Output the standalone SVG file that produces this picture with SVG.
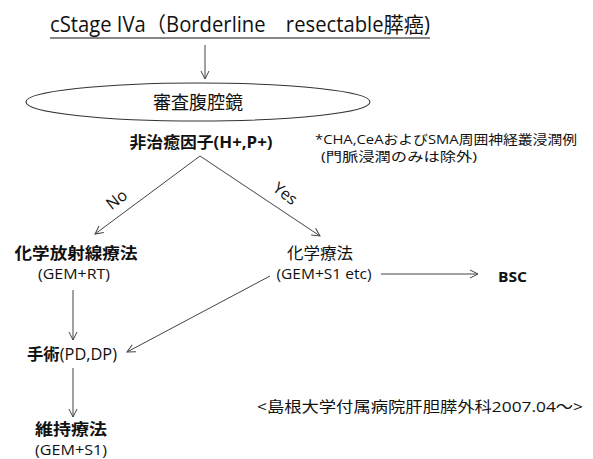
<svg xmlns="http://www.w3.org/2000/svg" width="593" height="459" viewBox="0 0 593 459">
<style>
text{font-family:"Open Sans","Noto Sans CJK JP",sans-serif;fill:#111;}
.b{font-weight:bold;}
.c{stroke:#444;stroke-width:1;fill:none;}
</style>
<defs>
<marker id="ah" markerWidth="12" markerHeight="12" refX="10" refY="5" orient="auto" markerUnits="userSpaceOnUse">
<path d="M2,1 L10,5 L2,9" fill="none" stroke="#444" stroke-width="1"/>
</marker>
</defs>
<rect width="593" height="459" fill="#fff"/>
<g id="title">
<text x="50" y="32" font-size="21" textLength="380" lengthAdjust="spacingAndGlyphs">cStage IVa（Borderline　resectable膵癌)</text>
<line x1="50" y1="38" x2="430" y2="38" stroke="#111" stroke-width="1.2"/>
</g>
<g id="laparoscopy">
<ellipse cx="198" cy="102" rx="172" ry="19" fill="none" stroke="#333" stroke-width="1.1"/>
<text x="198" y="109" font-size="18" text-anchor="middle">審査腹腔鏡</text>
</g>
<g id="noncurative">
<text x="201" y="148" font-size="16" class="b" text-anchor="middle" textLength="143" lengthAdjust="spacingAndGlyphs">非治癒因子(H+,P+)</text>
</g>
<g id="note">
<text x="315" y="144" font-size="13" textLength="262" lengthAdjust="spacingAndGlyphs">*CHA,CeAおよびSMA周囲神経叢浸潤例</text>
<text x="321" y="161" font-size="13" textLength="156" lengthAdjust="spacingAndGlyphs">(門脈浸潤のみは除外)</text>
</g>
<g id="chemoradiation">
<text x="76" y="259" font-size="16" class="b" text-anchor="middle" textLength="123" lengthAdjust="spacingAndGlyphs">化学放射線療法</text>
<text x="74" y="279" font-size="14" text-anchor="middle" textLength="72" lengthAdjust="spacingAndGlyphs">(GEM+RT)</text>
</g>
<g id="chemo">
<text x="320" y="259" font-size="16" text-anchor="middle" textLength="66" lengthAdjust="spacingAndGlyphs">化学療法</text>
<text x="324" y="279" font-size="14" text-anchor="middle" textLength="95" lengthAdjust="spacingAndGlyphs">(GEM+S1 etc)</text>
</g>
<g id="bsc">
<text x="498" y="282" font-size="15" class="b" textLength="29" lengthAdjust="spacingAndGlyphs">BSC</text>
</g>
<g id="surgery">
<text x="27" y="360" font-size="16" textLength="90" lengthAdjust="spacingAndGlyphs"><tspan class="b">手術</tspan>(PD,DP)</text>
</g>
<g id="maintenance">
<text x="71" y="435" font-size="16" class="b" text-anchor="middle" textLength="72" lengthAdjust="spacingAndGlyphs">維持療法</text>
<text x="71" y="455" font-size="14" text-anchor="middle" textLength="72" lengthAdjust="spacingAndGlyphs">(GEM+S1)</text>
</g>
<g id="source">
<text x="257" y="412" font-size="15" textLength="326" lengthAdjust="spacingAndGlyphs">&lt;島根大学付属病院肝胆膵外科2007.04～&gt;</text>
</g>
<g id="connectors">
<line class="c" x1="205" y1="45" x2="205" y2="79" marker-end="url(#ah)"/>
<line class="c" x1="200" y1="156" x2="95" y2="234" marker-end="url(#ah)"/>
<line class="c" x1="200" y1="156" x2="320" y2="236" marker-end="url(#ah)"/>
<text x="117" y="205" font-size="16" text-anchor="middle" transform="rotate(-38 117 200)">No</text>
<text x="285" y="199" font-size="16" text-anchor="middle" transform="rotate(38 285 194)">Yes</text>
<line class="c" x1="381" y1="274" x2="478" y2="274" marker-end="url(#ah)"/>
<line class="c" x1="270" y1="276" x2="127" y2="352" marker-end="url(#ah)"/>
<line class="c" x1="73" y1="290" x2="73" y2="340" marker-end="url(#ah)"/>
<line class="c" x1="73" y1="368" x2="73" y2="417" marker-end="url(#ah)"/>
</g>
</svg>
